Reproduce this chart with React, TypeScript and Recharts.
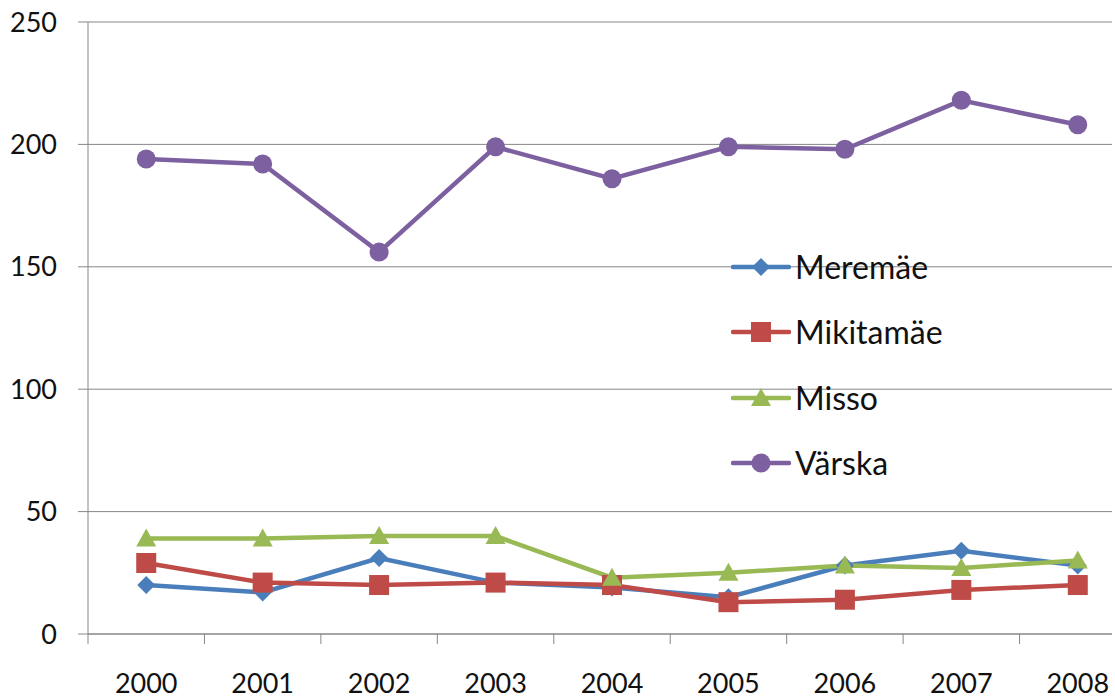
import React from "react";
import {
  LineChart,
  Line,
  XAxis,
  YAxis,
  CartesianGrid,
  Legend,
} from "recharts";

// values
const years = ["2000", "2001", "2002", "2003", "2004", "2005", "2006", "2007", "2008"];
const meremae = [20, 17, 31, 21, 19, 15, 28, 34, 28];
const mikitamae = [29, 21, 20, 21, 20, 13, 14, 18, 20];
const misso = [39, 39, 40, 40, 23, 25, 28, 27, 30];
const varska = [194, 192, 156, 199, 186, 199, 198, 218, 208];
const yTicks = [0, 50, 100, 150, 200, 250];

const series = [
  { key: "meremae", name: "Meremäe", color: "#4A7EBB", shape: "diamond", values: meremae },
  { key: "mikitamae", name: "Mikitamäe", color: "#BE4B48", shape: "square", values: mikitamae },
  { key: "misso", name: "Misso", color: "#98B954", shape: "triangle", values: misso },
  { key: "varska", name: "Värska", color: "#7D60A0", shape: "circle", values: varska },
];

const data = years.map((year, i) => {
  const row: Record<string, string | number> = { year };
  series.forEach((s) => (row[s.key] = s.values[i]));
  return row;
});

const CHART_W = 1136;
const CHART_H = 699;
const Y_AXIS_W = 88;
const STEP = (CHART_W - Y_AXIS_W) / years.length;
const TICK_LEN = 10;
const X_TICK_MARGIN = 30;
const GRID = "#878787";
const FONT = "Lato, 'Open Sans', sans-serif";

const Marker = ({ shape, cx, cy, color }: { shape: string; cx: number; cy: number; color: string }) => {
  if (shape === "diamond")
    return <polygon points={`${cx},${cy - 9} ${cx + 9},${cy} ${cx},${cy + 9} ${cx - 9},${cy}`} fill={color} />;
  if (shape === "square") return <rect x={cx - 10} y={cy - 10} width={20} height={20} fill={color} />;
  if (shape === "triangle")
    return <polygon points={`${cx},${cy - 10} ${cx + 10},${cy + 8} ${cx - 10},${cy + 8}`} fill={color} />;
  return <circle cx={cx} cy={cy} r={9.5} fill={color} />;
};

// category labels, with the small tick marks sitting on the band edges
const XTick = (props: any) => {
  const { x, y, payload } = props;
  const edge = x - STEP / 2;
  const axisY = y - X_TICK_MARGIN - TICK_LEN;
  return (
    <g>
      <line x1={edge} x2={edge} y1={axisY} y2={axisY + TICK_LEN} stroke={GRID} strokeWidth={1} />
      <text x={x} y={y} dy="0.71em" textAnchor="middle" fill="#111" fontSize={27} fontFamily={FONT}>
        {payload.value}
      </text>
    </g>
  );
};

const LegendBox = () => (
  <div style={{ fontFamily: FONT }}>
    {series.map((s) => (
      <div key={s.key} style={{ display: "flex", alignItems: "center", height: 65.5 }}>
        <svg width={60} height={24} style={{ marginRight: 4 }}>
          <line x1={2} x2={58} y1={12} y2={12} stroke={s.color} strokeWidth={4.5} strokeLinecap="round" />
          <Marker shape={s.shape} cx={30} cy={12} color={s.color} />
        </svg>
        <span style={{ fontSize: 32, color: "#111", lineHeight: 1 }}>{s.name}</span>
      </div>
    ))}
  </div>
);

export default function App() {
  return (
    <div
      style={{
        position: "fixed",
        left: 0,
        top: 0,
        width: 1112,
        height: CHART_H,
        overflow: "hidden",
        background: "#fff",
      }}
    >
      <LineChart width={CHART_W} height={CHART_H} data={data} margin={{ top: 22, right: 0, left: 0, bottom: 0 }}>
        <CartesianGrid vertical={false} stroke={GRID} strokeWidth={1} />
        <XAxis
          dataKey="year"
          height={CHART_H - 22 - 612}
          padding={{ left: STEP / 2, right: STEP / 2 }}
          axisLine={{ stroke: GRID }}
          tickLine={false}
          tickSize={TICK_LEN}
          tickMargin={X_TICK_MARGIN}
          tick={<XTick />}
          interval={0}
        />
        <YAxis
          width={Y_AXIS_W}
          domain={[0, 250]}
          ticks={yTicks}
          axisLine={{ stroke: GRID }}
          tickLine={{ stroke: GRID }}
          tickSize={TICK_LEN}
          tickMargin={21}
          tick={{ fill: "#111", fontSize: 27, fontFamily: FONT }}
        />
        <Legend
          layout="vertical"
          align="center"
          verticalAlign="middle"
          content={<LegendBox />}
          wrapperStyle={{ left: 731, top: 234, width: 300 }}
        />
        {series.map((s) => (
          <Line
            key={s.key}
            dataKey={s.key}
            name={s.name}
            stroke={s.color}
            strokeWidth={4.5}
            isAnimationActive={false}
            activeDot={false}
            dot={(p: any) => <Marker key={`${s.key}-${p.index}`} shape={s.shape} cx={p.cx} cy={p.cy} color={s.color} />}
          />
        ))}
      </LineChart>
    </div>
  );
}
